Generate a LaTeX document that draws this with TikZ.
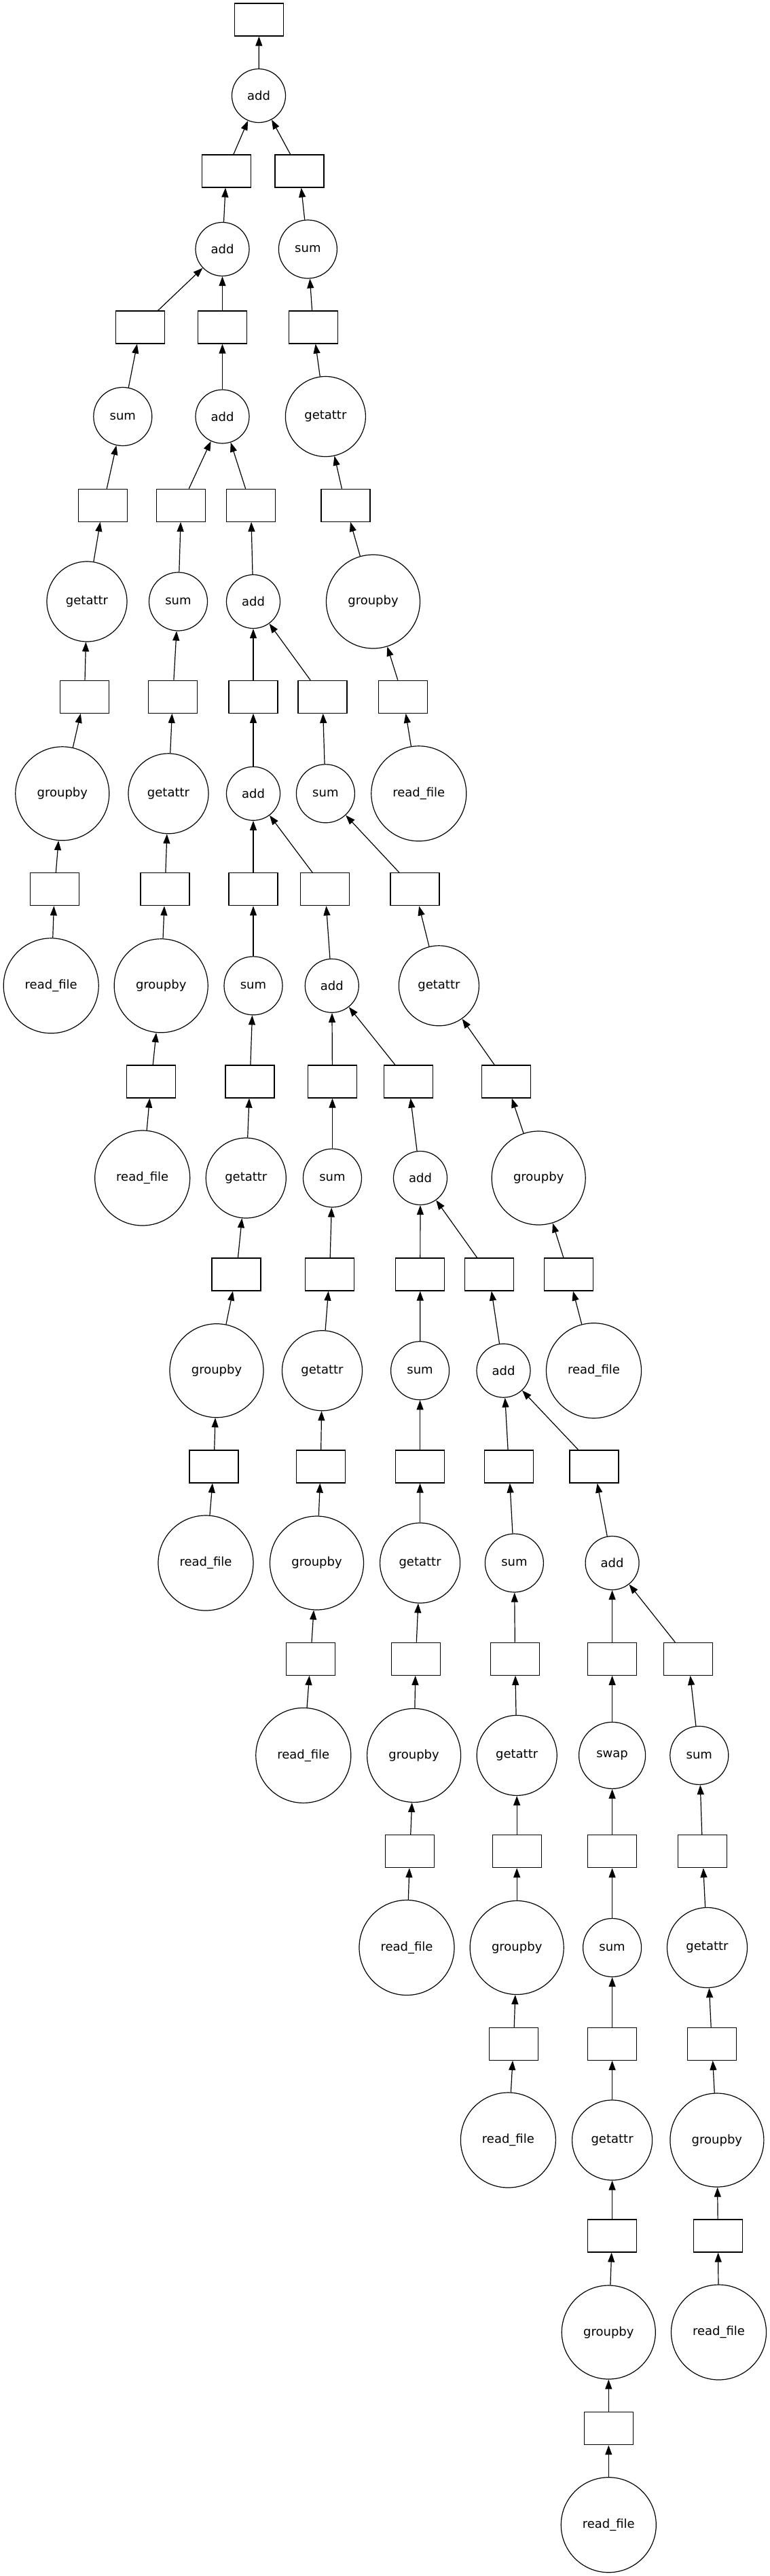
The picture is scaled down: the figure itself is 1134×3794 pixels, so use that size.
\documentclass[tikz,border=0pt]{standalone}
\usepackage{fontspec}
\setmainfont{DejaVu Sans}
\usetikzlibrary{arrows.meta}

\tikzset{
  chunk/.style={draw, rectangle, minimum width=36pt, minimum height=24pt, inner sep=0pt},
  task/.style={draw, circle, inner sep=0pt, minimum size=#1, font=\fontsize{9}{11}\selectfont},
  dep/.style={-{Triangle[length=7pt,width=5pt]}}
}

\begin{document}
\begin{tikzpicture}[x=0.5pt, y=-0.5pt, line width=0.6pt]
  \useasboundingbox (0,0) rectangle (1134,3794);
  % result and top of the tree
  \node[chunk] (out) at (381.5,29) {};
  \node[task=39.5pt] (add0) at (381,141) {add};
  \node[chunk] (c1) at (333.3,252) {}; \node[chunk] (c2) at (441,252) {};
  \node[task=39.5pt] (add1) at (327.5,367) {add};
  \node[task=43pt] (sum0) at (453.4,367) {sum};
  \node[chunk] (c3) at (206.8,482) {}; \node[chunk] (c4) at (327.5,482) {};
  \node[chunk] (c5) at (461.3,482) {};
  \node[task=43pt] (sum1) at (180.8,613.5) {sum};
  \node[task=39.5pt] (add2) at (327.5,613.5) {add};
  \node[task=59pt] (attr0) at (479.4,613.5) {getattr};
  \node[chunk] (c6) at (151.8,744.3) {}; \node[chunk] (c7) at (266.8,744.3) {};
  \node[chunk] (c8) at (369.5,744.3) {}; \node[chunk] (c9) at (509,744.3) {};
  \node[task=59pt] (attr1) at (128,886) {getattr};
  \node[task=43pt] (sum2) at (262.5,886) {sum};
  \node[task=39.5pt] (add3) at (373,886) {add};
  \node[task=69pt] (grp0) at (549.5,886) {groupby};
  \node[chunk] (c10) at (124.4,1026.3) {}; \node[chunk] (c11) at (254.5,1026.3) {};
  \node[chunk] (c12) at (373,1026.3) {}; \node[chunk] (c13) at (475,1026.3) {};
  \node[chunk] (c14) at (593.6,1026.3) {};
  \node[task=69pt] (grp1) at (91.8,1168.8) {groupby};
  \node[task=59pt] (attr2) at (248,1168.8) {getattr};
  \node[task=39.5pt] (add4) at (373,1168.8) {add};
  \node[task=43pt] (sum3) at (479.4,1168.8) {sum};
  \node[task=70pt] (read0) at (616.8,1168.8) {read\_file};
  \node[chunk] (c15) at (80.3,1309.8) {}; \node[chunk] (c16) at (243,1309.8) {};
  \node[chunk] (c17) at (373,1309.8) {}; \node[chunk] (c18) at (478.7,1309.8) {};
  \node[chunk] (c19) at (611,1309.8) {};
  \node[task=70pt] (read1) at (75.2,1451.8) {read\_file};
  \node[task=69pt] (grp2) at (237.2,1451.8) {groupby};
  \node[task=43pt] (sum4) at (373,1451.8) {sum};
  \node[task=39.5pt] (add5) at (488.8,1451.8) {add};
  \node[task=59pt] (attr3) at (646.4,1451.8) {getattr};
  \node[chunk] (c20) at (222.7,1593) {}; \node[chunk] (c21) at (368,1593) {};
  \node[chunk] (c22) at (489.5,1593) {}; \node[chunk] (c23) at (601.6,1593) {};
  \node[chunk] (c24) at (745.5,1593) {};
  \node[task=70pt] (read2) at (209.7,1735) {read\_file};
  \node[task=59pt] (attr4) at (362.3,1735) {getattr};
  \node[task=43pt] (sum5) at (489.5,1735) {sum};
  \node[task=39.5pt] (add6) at (619,1735) {add};
  \node[task=69pt] (grp3) at (793.2,1735) {groupby};
  \node[chunk] (c25) at (348,1877) {}; \node[chunk] (c26) at (485.5,1877) {};
  \node[chunk] (c27) at (618.8,1877) {}; \node[chunk] (c28) at (720.2,1877) {};
  \node[chunk] (c29) at (837.6,1877) {};
  \node[task=69pt] (grp4) at (319,2018.7) {groupby};
  \node[task=59pt] (attr5) at (474.5,2018.7) {getattr};
  \node[task=43pt] (sum6) at (618.6,2018.7) {sum};
  \node[task=39.5pt] (add7) at (741.5,2018.7) {add};
  \node[task=70pt] (read3) at (874.5,2018.7) {read\_file};
  \node[chunk] (c30) at (315,2160) {}; \node[chunk] (c31) at (472.3,2160) {};
  \node[chunk] (c32) at (618.6,2160) {}; \node[chunk] (c33) at (749.5,2160) {};
  \node[chunk] (c34) at (875,2160) {};
  \node[task=70pt] (read4) at (303,2302) {read\_file};
  \node[task=69pt] (grp5) at (466.5,2302) {groupby};
  \node[task=59pt] (attr6) at (618.6,2302) {getattr};
  \node[task=43pt] (sum7) at (757.4,2302) {sum};
  \node[task=39.5pt] (add8) at (901.6,2302) {add};
  \node[chunk] (c35) at (457.4,2443.3) {}; \node[chunk] (c36) at (612.2,2443.3) {};
  \node[chunk] (c37) at (758.5,2443.3) {}; \node[chunk] (c38) at (901.6,2443.3) {};
  \node[chunk] (c39) at (1013.8,2443.3) {};
  \node[task=70pt] (read5) at (446.8,2585.4) {read\_file};
  \node[task=69pt] (grp6) at (609.6,2585.4) {groupby};
  \node[task=59pt] (attr7) at (761.2,2585.4) {getattr};
  \node[task=49pt] (swap0) at (901.6,2585.4) {swap};
  \node[task=43pt] (sum8) at (1029.8,2585.4) {sum};
  \node[chunk] (c40) at (603.7,2726.7) {}; \node[chunk] (c41) at (761.2,2726.7) {};
  \node[chunk] (c42) at (901.6,2726.7) {}; \node[chunk] (c43) at (1034.6,2726.7) {};
  \node[task=70pt] (read6) at (599,2868.5) {read\_file};
  \node[task=69pt] (grp7) at (761.2,2868.5) {groupby};
  \node[task=43pt] (sum9) at (901.6,2868.5) {sum};
  \node[task=59pt] (attr8) at (1041.5,2868.5) {getattr};
  \node[chunk] (c44) at (756.4,3010.3) {}; \node[chunk] (c45) at (901.6,3010.3) {};
  \node[chunk] (c46) at (1048.4,3010.3) {};
  \node[task=70pt] (read7) at (748.4,3152) {read\_file};
  \node[task=59pt] (attr9) at (901.6,3152) {getattr};
  \node[task=69pt] (grp8) at (1055.9,3152) {groupby};
  \node[chunk] (c47) at (901.6,3293) {}; \node[chunk] (c48) at (1057.4,3293) {};
  \node[task=69pt] (grp9) at (896.3,3435) {groupby};
  \node[task=70pt] (read8) at (1058.5,3435) {read\_file};
  \node[chunk] (c49) at (896.3,3576.8) {};
  \node[task=70pt] (read9) at (896.3,3718.7) {read\_file};
  % dependencies, from input up to result
  \foreach \a/\b in {add0/out, c1/add0, c2/add0, add1/c1, sum0/c2,
      c3/add1, c4/add1, c5/sum0, sum1/c3, add2/c4, attr0/c5,
      c6/sum1, c7/add2, c8/add2, c9/attr0, attr1/c6, sum2/c7, add3/c8, grp0/c9,
      c10/attr1, c11/sum2, c12/add3, c13/add3, c14/grp0,
      grp1/c10, attr2/c11, add4/c12, sum3/c13, read0/c14,
      c15/grp1, c16/attr2, c17/add4, c18/add4, c19/sum3,
      read1/c15, grp2/c16, sum4/c17, add5/c18, attr3/c19,
      c20/grp2, c21/sum4, c22/add5, c23/add5, c24/attr3,
      read2/c20, attr4/c21, sum5/c22, add6/c23, grp3/c24,
      c25/attr4, c26/sum5, c27/add6, c28/add6, c29/grp3,
      grp4/c25, attr5/c26, sum6/c27, add7/c28, read3/c29,
      c30/grp4, c31/attr5, c32/sum6, c33/add7, c34/add7,
      read4/c30, grp5/c31, attr6/c32, sum7/c33, add8/c34,
      c35/grp5, c36/attr6, c37/sum7, c38/add8, c39/add8,
      read5/c35, grp6/c36, attr7/c37, swap0/c38, sum8/c39,
      c40/grp6, c41/attr7, c42/swap0, c43/sum8,
      read6/c40, grp7/c41, sum9/c42, attr8/c43,
      c44/grp7, c45/sum9, c46/attr8, read7/c44, attr9/c45, grp8/c46,
      c47/attr9, c48/grp8, grp9/c47, read8/c48, c49/grp9, read9/c49}
    \draw[dep] (\a) -- (\b);
\end{tikzpicture}
\end{document}
